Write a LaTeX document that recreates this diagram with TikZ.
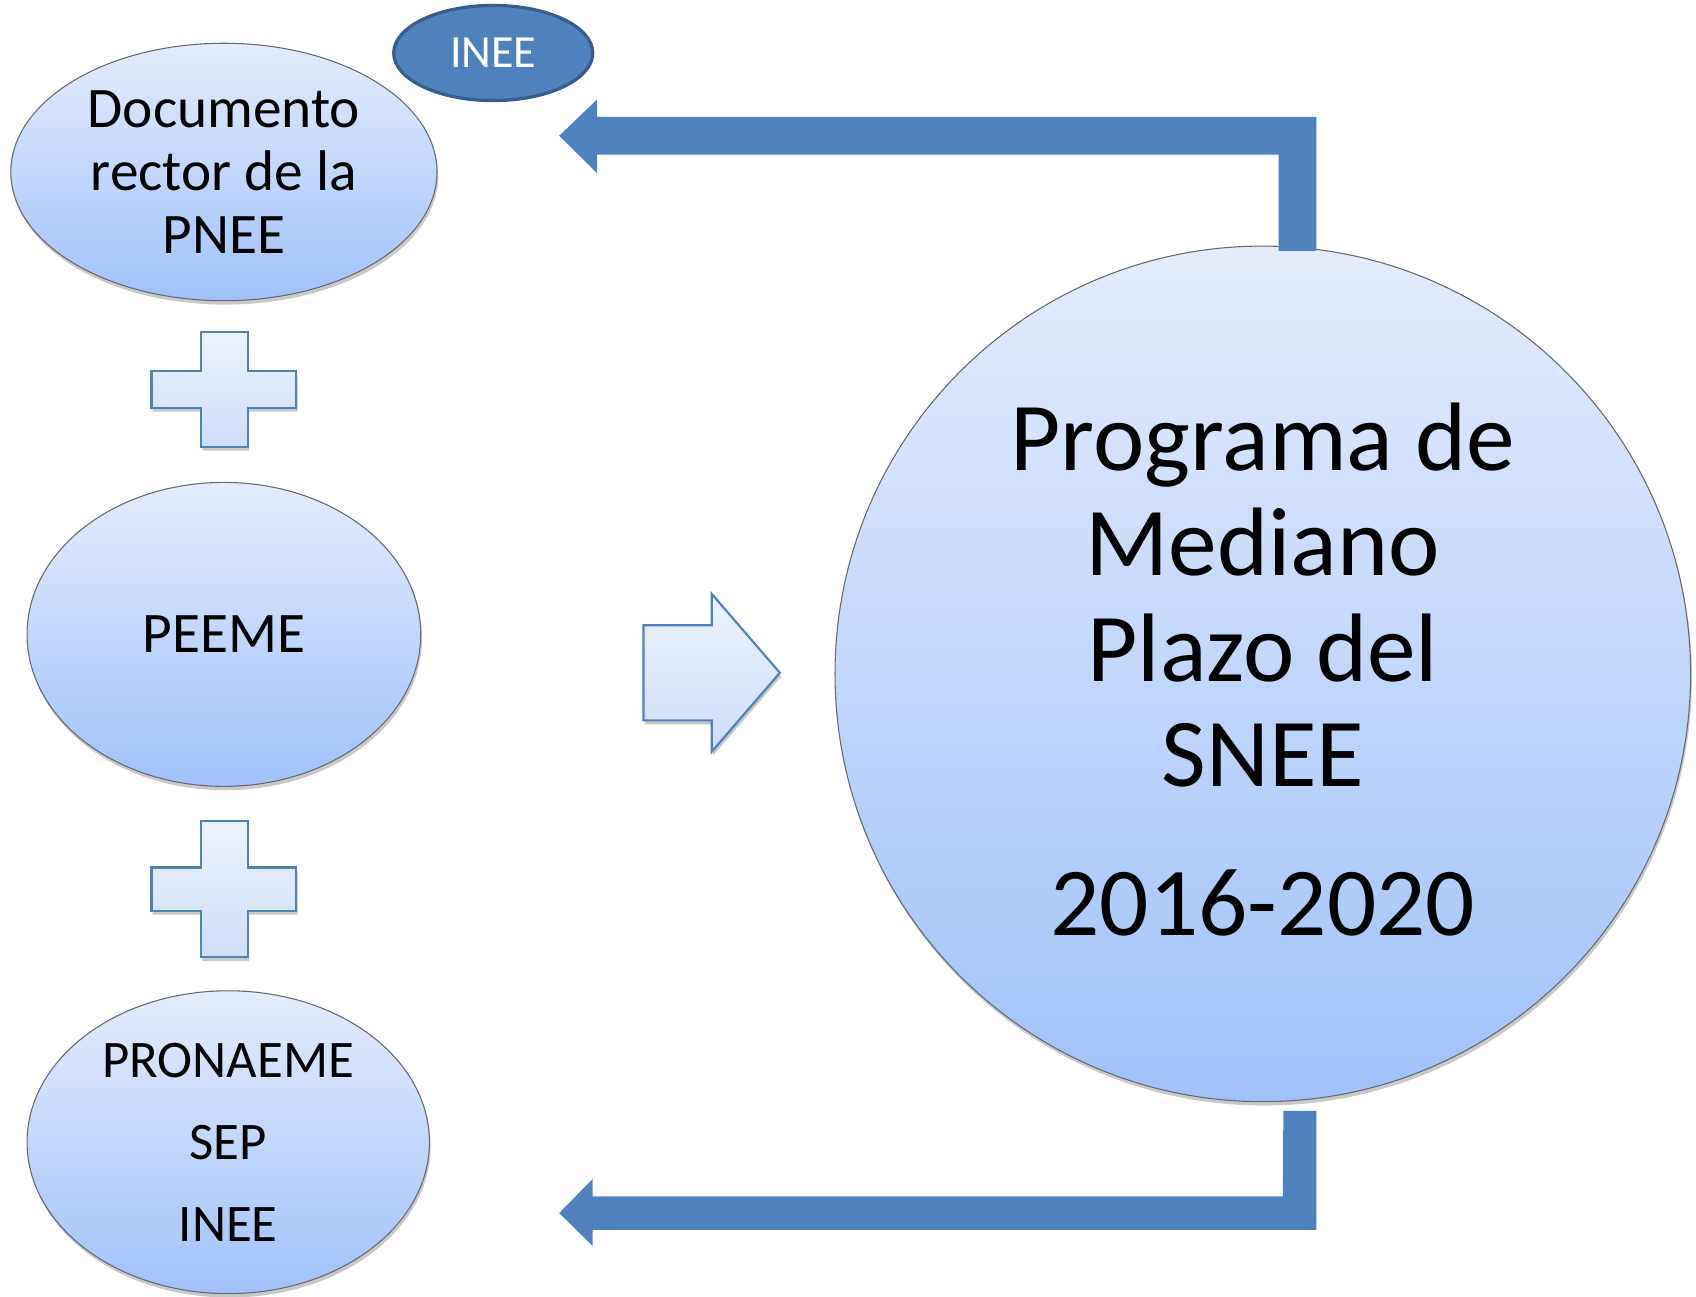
\documentclass[tikz,border=0pt]{standalone}
\usepackage{fontspec}
\setmainfont{Carlito}
\usetikzlibrary{shapes.geometric,shadows}
\definecolor{ellTop}{RGB}{228,236,252}
\definecolor{ellBot}{RGB}{160,194,250}
\definecolor{ellLine}{RGB}{105,105,110}
\definecolor{accent}{RGB}{79,129,189}
\definecolor{accentDark}{RGB}{56,93,138}
\definecolor{symTop}{RGB}{237,243,254}
\definecolor{symBot}{RGB}{206,221,250}
\begin{document}
\begin{tikzpicture}[x=0.5pt,y=-0.5pt,
  softshadow/.style={drop shadow={shadow xshift=0.6pt, shadow yshift=-1.8pt, opacity=0.3, fill=black!70}},
  bubble/.style={ellipse, draw=ellLine, line width=0.5pt, top color=ellTop, bottom color=ellBot,
    inner sep=0pt, align=center, text=black, softshadow},
  tag/.style={ellipse, draw=accentDark, line width=1.5pt, fill=accent, text=white, inner sep=0pt},
  symbol/.style={draw=accent, line width=1pt, top color=symTop, bottom color=symBot, line join=miter, softshadow},
  bent/.style={fill=accent, draw=none}]
\useasboundingbox (0,0) rectangle (1568,1199);

% ellipses
\node[bubble, minimum width=197pt, minimum height=119pt,
  font=\fontsize{26.5}{29}\selectfont] (doc) at (207,159) {Documento\\rector de la\\PNEE};
\node[tag, minimum width=92pt, minimum height=44pt,
  font=\fontsize{21.3}{24}\selectfont] (inee) at (456,49) {INEE};
\node[bubble, minimum width=182pt, minimum height=140.5pt,
  font=\fontsize{26.5}{29}\selectfont] (peeme) at (207,586.5) {PEEME};
\node[bubble, minimum width=186pt, minimum height=140pt,
  font=\fontsize{24.4}{37.8}\selectfont] (prona) at (211,1056) {PRONAEME\\SEP\\INEE};

% big circle
\node[bubble, circle, minimum size=395.5pt,
  font=\fontsize{45}{48.7}\selectfont] (prog) at (1167.5,623)
  {Programa de\\Mediano\\Plazo del\\SNEE\\[20pt]2016-2020\rule[-4.5pt]{0pt}{4.5pt}};

% plus signs
\path[symbol] (186,307) -- (229,307) -- (229,343) -- (274,343) -- (274,377) -- (229,377)
  -- (229,413) -- (186,413) -- (186,377) -- (140,377) -- (140,343) -- (186,343) -- cycle;
\path[symbol] (186,759) -- (229,759) -- (229,802) -- (274,802) -- (274,842) -- (229,842)
  -- (229,885) -- (186,885) -- (186,842) -- (140,842) -- (140,802) -- (186,802) -- cycle;

% block arrow to the circle
\path[symbol] (595,578) -- (658,578) -- (658,549) -- (721,622) -- (658,695) -- (658,666)
  -- (595,666) -- cycle;

% bent arrows from the circle
\coordinate (topfoot) at (1199.5,232);
\coordinate (toptip) at (517,125.5);
\fill[bent] (topfoot) ++(17.5,0) -- (1217,108) -- (552,108) -- (552,92) -- (toptip)
  -- (552,160) -- (552,143) -- (1182,143) -- (1182,232) -- cycle;
\coordinate (botfoot) at (1201.5,1027);
\coordinate (bottip) at (517,1121.5);
\fill[bent] (botfoot) ++(-15,0) -- (1217,1027) -- (1217,1137) -- (548,1137) -- (548,1152)
  -- (bottip) -- (548,1090) -- (548,1106) -- (1186,1106) -- cycle;
\end{tikzpicture}
\end{document}
